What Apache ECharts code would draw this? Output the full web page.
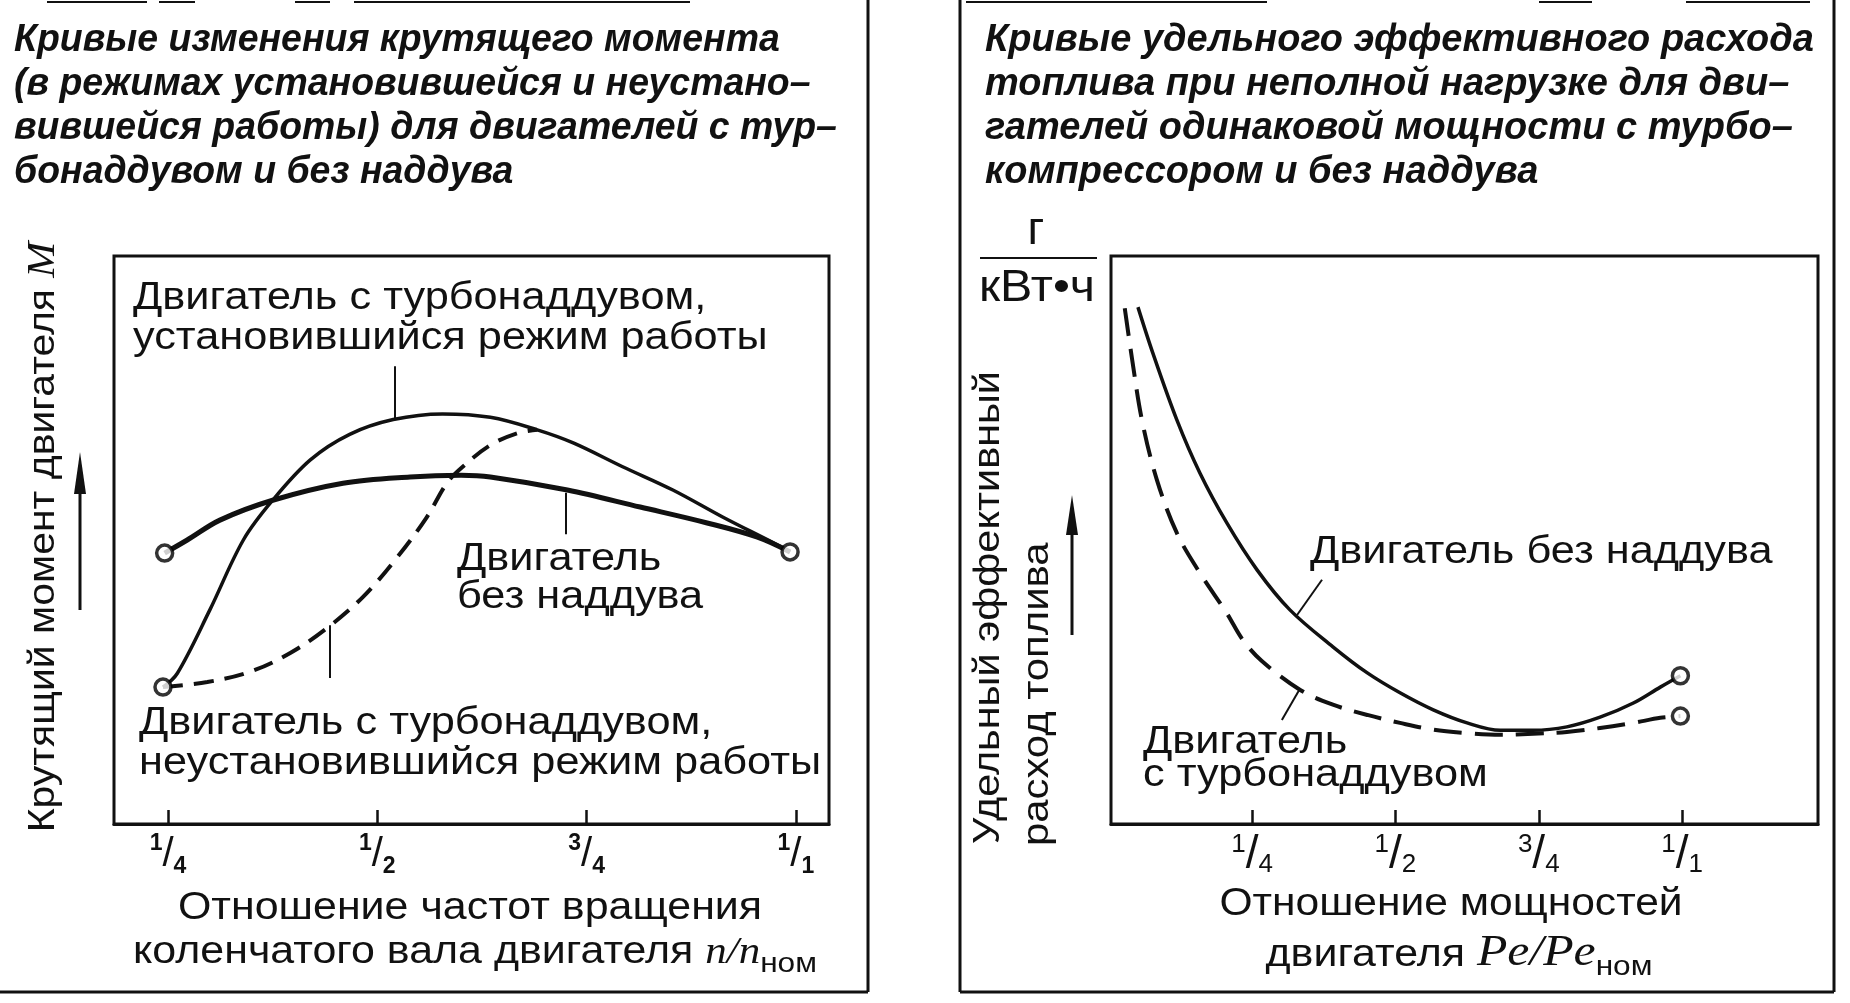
<!DOCTYPE html>
<html><head><meta charset="utf-8">
<script src="https://cdn.jsdelivr.net/npm/echarts@6/dist/echarts.min.js"></script>
<style>html,body{margin:0;padding:0;background:#fff}#c{width:1850px;height:1003px}</style>
</head><body><div id="c"></div>
<script>
// ---- data ----
const tickValues = [0.25, 0.5, 0.75, 1.0];
const tickNum = ['1', '1', '3', '1'];
const tickDen = ['4', '2', '4', '1'];

// left: torque vs n/n_nom (y in relative units 0..100)
const torqueNA = [[0.246,47.7],[0.273,50.0],[0.312,53.5],[0.375,57.0],[0.459,60.0],[0.539,61.1],[0.600,61.4],[0.635,61.1],[0.727,58.8],[0.814,55.8],[0.894,53.0],[0.954,50.5],[0.993,47.9]];
const torqueTurboSteady = [[0.244,24.1],[0.261,26.5],[0.300,37.7],[0.340,50.0],[0.375,57.0],[0.420,64.1],[0.467,68.6],[0.519,71.2],[0.578,72.2],[0.635,71.6],[0.691,69.4],[0.734,67.1],[0.793,62.9],[0.853,58.8],[0.913,54.0],[0.973,49.5],[0.993,47.9]];
const torqueTurboTransient = [[0.244,24.1],[0.297,25.0],[0.348,26.8],[0.396,30.1],[0.440,34.5],[0.483,40.0],[0.524,47.0],[0.559,54.0],[0.583,60.0],[0.602,62.9],[0.635,66.7],[0.667,68.8],[0.691,69.4]];

// right: specific fuel consumption vs Pe/Pe_nom
const fuelNA = [[0.051,91.0],[0.077,82.9],[0.119,71.1],[0.159,61.8],[0.206,53.0],[0.259,44.7],[0.316,37.7],[0.391,31.2],[0.451,26.6],[0.508,23.1],[0.566,20.1],[0.625,17.8],[0.683,16.5],[0.740,16.5],[0.799,17.1],[0.857,18.8],[0.915,21.3],[0.962,24.1],[0.997,26.1]];
const fuelTurbo = [[0.028,90.8],[0.041,81.7],[0.058,71.1],[0.084,60.6],[0.119,51.2],[0.159,44.2],[0.206,37.1],[0.234,32.4],[0.267,28.7],[0.334,23.6],[0.391,21.0],[0.451,19.2],[0.508,17.8],[0.566,16.6],[0.625,16.0],[0.683,15.7],[0.740,15.9],[0.799,16.2],[0.857,16.9],[0.915,17.8],[0.962,18.7],[0.997,19.0]];

// label leader lines (data coords)
const leadersLeft = [[[0.521,80.6],[0.521,71.3]],[[0.725,58.3],[0.725,51.0]],[[0.4435,35.0],[0.4435,25.7]]];
const leadersRight = [[[0.372,43.0],[0.3285,36.8]],[[0.334,23.9],[0.302,18.3]]];

// ---- chart ----
const SANS = '"Liberation Sans", Arial, sans-serif';
const SERIF = '"Liberation Serif", "Times New Roman", serif';
const K = '#111';

function fracFormatter(value) {
  let i = tickValues.findIndex(v => Math.abs(v - value) < 1e-6);
  if (i < 0) return '';
  return '{n|' + tickNum[i] + '}{s|/}{d|' + tickDen[i] + '}';
}
const richLeft = {
  n: {fontFamily: SANS, fontSize: 23, fontWeight: 'bold', color: K, lineHeight: 22, verticalAlign: 'top'},
  s: {fontFamily: SANS, fontSize: 40, color: K, lineHeight: 46, verticalAlign: 'middle'},
  d: {fontFamily: SANS, fontSize: 23, fontWeight: 'bold', color: K, lineHeight: 22, verticalAlign: 'bottom'}
};
const richRight = {
  n: {fontFamily: SANS, fontSize: 26, color: K, lineHeight: 22, verticalAlign: 'top'},
  s: {fontFamily: SANS, fontSize: 46, color: K, lineHeight: 46, verticalAlign: 'middle'},
  d: {fontFamily: SANS, fontSize: 26, color: K, lineHeight: 22, verticalAlign: 'bottom'}
};

function xAxisDef(gi, min, max, rich) {
  return {
    type: 'value', gridIndex: gi, min: min, max: max,
    axisLine: {show: true, onZero: false, lineStyle: {color: K, width: 3}},
    axisTick: {show: true, inside: true, length: 14, lineStyle: {color: K, width: 2.5}, customValues: tickValues},
    axisLabel: {show: true, margin: 8, customValues: tickValues, formatter: fracFormatter, rich: rich},
    splitLine: {show: false}
  };
}
function yAxisDef(gi) {
  return {type: 'value', gridIndex: gi, min: 0, max: 100, show: false, splitLine: {show: false}};
}
function lineSeries(xi, data, width, dash) {
  return {
    type: 'line', xAxisIndex: xi, yAxisIndex: xi, data: data, smooth: 0.35,
    symbol: 'none', silent: true, z: 3,
    lineStyle: {color: K, width: width, type: dash || 'solid', cap: 'butt'}
  };
}
function circles(xi, pts) {
  return {
    type: 'scatter', xAxisIndex: xi, yAxisIndex: xi, data: pts, symbol: 'circle', symbolSize: 16,
    silent: true, z: 5, itemStyle: {color: '#fff', borderColor: '#000', borderWidth: 3.5}
  };
}
function leaders(xi, segs) {
  return {
    type: 'lines', coordinateSystem: 'cartesian2d', xAxisIndex: xi, yAxisIndex: xi, silent: true, z: 2,
    lineStyle: {color: K, width: 2, opacity: 1, curveness: 0},
    data: segs.map(s => ({coords: s}))
  };
}

function txt(text, x, y, opt) {
  opt = opt || {};
  return {
    type: 'text', x: x, y: y, rotation: opt.rotation || 0, scaleX: opt.scaleX || 1, silent: true, z: 10,
    style: {
      text: text, fill: K, fontFamily: opt.family || SANS, fontSize: opt.size || 36,
      fontWeight: opt.weight || 'normal', fontStyle: opt.style || 'normal',
      align: opt.align || 'left', verticalAlign: 'middle', rich: opt.rich
    }
  };
}
function seg(x1, y1, x2, y2, w) {
  return {type: 'line', silent: true, z: 10, shape: {x1: x1, y1: y1, x2: x2, y2: y2}, style: {stroke: K, lineWidth: w || 3}};
}
function arrowHead(x, tipY, len, half) {
  return {type: 'polygon', silent: true, z: 10, shape: {points: [[x, tipY], [x - half, tipY + len], [x + half, tipY + len]]}, style: {fill: K}};
}

const titleOpt = {size: 38, weight: 'bold', style: 'italic'};
const titleY = [41, 85, 129, 173];
const titleLeft = ['Кривые изменения крутящего момента', '(в режимах установившейся и неустано–', 'вившейся работы) для двигателей с тур–', 'бонаддувом и без наддува'];
const titleRight = ['Кривые удельного эффективного расхода', 'топлива при неполной нагрузке для дви–', 'гателей одинаковой мощности с турбо–', 'компрессором и без наддува'];

const graphics = [];
titleLeft.forEach((t, i) => graphics.push(txt(t, 14, titleY[i], Object.assign({scaleX: 0.985}, titleOpt))));
titleRight.forEach((t, i) => graphics.push(txt(t, 985, titleY[i], titleOpt)));

// frames
graphics.push(seg(868, 0, 868, 992, 3), seg(0, 992, 868, 992, 3));
graphics.push(seg(960, 0, 960, 992, 3), seg(1834, 0, 1834, 992, 3), seg(960, 992, 1834, 992, 3));
[[47,147],[159,195],[295,330],[354,690],[966,1267],[1539,1592],[1686,1810]].forEach(s => graphics.push(seg(s[0], 2, s[1], 2, 2)));

// plot labels
const LB = {size: 38, scaleX: 1.14};
graphics.push(txt('Двигатель с турбонаддувом,', 133, 299, LB));
graphics.push(txt('установившийся режим работы', 133, 339, LB));
graphics.push(txt('Двигатель', 457, 560, LB));
graphics.push(txt('без наддува', 457, 598, LB));
graphics.push(txt('Двигатель с турбонаддувом,', 139, 724, LB));
graphics.push(txt('неустановившийся режим работы', 139, 764, LB));
graphics.push(txt('Двигатель без наддува', 1310, 553, LB));
graphics.push(txt('Двигатель', 1143, 743, LB));
graphics.push(txt('с турбонаддувом', 1143, 776, LB));

// axis titles
const subRich = {
  a: {fontFamily: SANS, fontSize: 38, color: K, lineHeight: 42, verticalAlign: 'bottom'},
  i: {fontFamily: SERIF, fontSize: 38, fontStyle: 'italic', color: K, lineHeight: 42, verticalAlign: 'bottom'},
  s: {fontFamily: SANS, fontSize: 28, color: K, lineHeight: 30, verticalAlign: 'bottom', padding: [0, 0, -6, 0]}
};
const subRich2 = Object.assign({}, subRich, {i: {fontFamily: SERIF, fontSize: 44, fontStyle: 'italic', color: K, lineHeight: 42, verticalAlign: 'bottom'}});
graphics.push(txt('Отношение частот вращения', 470, 909, {align: 'center', size: 38, scaleX: 1.13}));
graphics.push(txt('{a|коленчатого вала двигателя }{i|n/n}{s|ном}', 475, 951, {align: 'center', scaleX: 1.13, rich: subRich}));
graphics.push(txt('Отношение мощностей', 1451, 905, {align: 'center', size: 38, scaleX: 1.12}));
graphics.push(txt('{a|двигателя }{i|Pe/Pe}{s|ном}', 1459, 954, {align: 'center', scaleX: 1.13, rich: subRich2}));

// y titles
graphics.push(txt('{a|Крутящий момент двигателя }{i|M}', 44, 537, {align: 'center', rotation: Math.PI / 2, scaleX: 1.107, rich: {
  a: {fontFamily: SANS, fontSize: 37, color: K},
  i: {fontFamily: SERIF, fontSize: 39, fontStyle: 'italic', color: K}
}}));
graphics.push(txt('Удельный эффективный', 989, 844, {rotation: Math.PI / 2, size: 37, scaleX: 1.12}));
graphics.push(txt('расход топлива', 1038, 846, {rotation: Math.PI / 2, size: 37, scaleX: 1.13}));

// arrows
graphics.push(seg(80, 610, 80, 480, 3), arrowHead(80, 452, 42, 6));
graphics.push(seg(1072, 635, 1072, 520, 3), arrowHead(1072, 495, 40, 6));

// unit
graphics.push(txt('г', 1036, 231, {align: 'center', size: 46}));
graphics.push(seg(980, 258, 1097, 258, 2));
graphics.push(txt('кВт•ч', 1037, 289, {align: 'center', size: 44, scaleX: 1.1}));

const chart = echarts.init(document.getElementById('c'), null, {renderer: 'canvas'});
chart.setOption({
  backgroundColor: '#fff',
  animation: false,
  grid: [
    {left: 114, top: 256, width: 715, height: 568, show: true, borderColor: K, borderWidth: 3, backgroundColor: 'transparent'},
    {left: 1111, top: 256, width: 707, height: 568, show: true, borderColor: K, borderWidth: 3, backgroundColor: 'transparent'}
  ],
  xAxis: [xAxisDef(0, 0.1855, 1.0395, richLeft), xAxisDef(1, 0.004, 1.237, richRight)],
  yAxis: [yAxisDef(0), yAxisDef(1)],
  series: [
    lineSeries(0, torqueNA, 5),
    lineSeries(0, torqueTurboSteady, 3.5),
    lineSeries(0, torqueTurboTransient, 4, [20, 11]),
    leaders(0, leadersLeft),
    circles(0, [torqueNA[0], torqueNA[torqueNA.length - 1], torqueTurboSteady[0]]),
    lineSeries(1, fuelNA, 3.5),
    lineSeries(1, fuelTurbo, 4, [28, 13]),
    leaders(1, leadersRight),
    circles(1, [fuelNA[fuelNA.length - 1], fuelTurbo[fuelTurbo.length - 1]])
  ],
  graphic: graphics
});
</script></body></html>
